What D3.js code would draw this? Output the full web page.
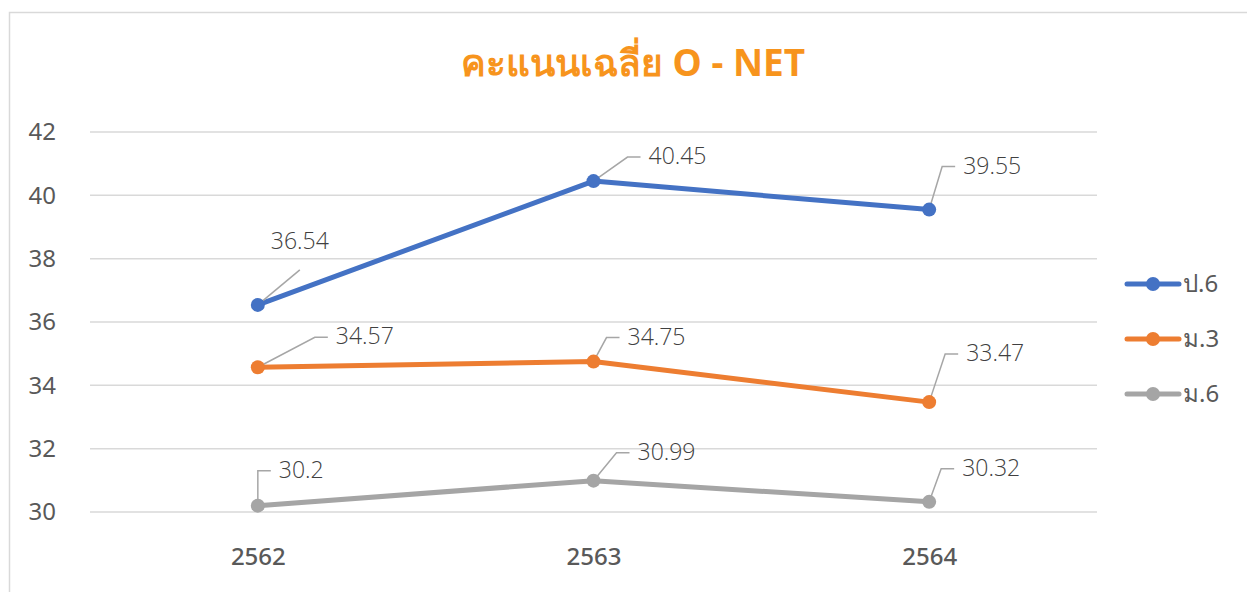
<!DOCTYPE html>
<html lang="th">
    <head>
        <meta charset="utf-8">
        <title>O-NET</title>
        <script src="https://cdn.jsdelivr.net/npm/d3@7/dist/d3.min.js"></script>
        <style>
            body { margin: 0; background: #fff; }
            text { font-family: "Noto Sans", "DejaVu Sans", sans-serif; }
            .lbl { font-family: "Open Sans", "Noto Sans", sans-serif; font-weight: 300; }
        </style>
    </head>
    <body>
        <div id="chart"></div>
    </body>
    <script>
        // data
        const years = ["2562", "2563", "2564"];
        const seriesNames = ["ป.6", "ม.3", "ม.6"];
        const p6 = [36.54, 40.45, 39.55];
        const m3 = [34.57, 34.75, 33.47];
        const m6 = [30.2, 30.99, 30.32];
        const yTicks = [30, 32, 34, 36, 38, 40, 42];

        const colors = ["#4472C4", "#ED7D31", "#A5A5A5"];
        // label offsets (text start / centre relative to the point)
        const labelPos = [
            [[13, -64], [55, -25], [34, -44]],
            [[78, -31], [34, -25], [37, -49]],
            [[21, -36], [44, -29], [33, -34]]
        ];

        (function(){
            var W = 1247, H = 592;
            var svg = d3.select("#chart").append("svg").attr("width", W).attr("height", H);

            // frame
            svg.append("rect").attr("x", 9.5).attr("y", 12.5).attr("width", W).attr("height", H)
                .attr("fill", "none").attr("stroke", "#d9d9d9").attr("stroke-width", 1.5);

            svg.append("text")
                .attr("x", 633).attr("y", 76)
                .attr("text-anchor", "middle")
                .attr("font-size", 37).attr("font-weight", "bold")
                .attr("fill", "#F7941D")
                .text("คะแนนเฉลี่ย O - NET");

            var pLeft = 90, pRight = 1097, pTop = 132, pBottom = 512;

            var x = d3.scalePoint().domain(years).range([pLeft, pRight]).padding(0.5);
            var y = d3.scaleLinear().domain([30, 42]).range([pBottom, pTop]);

            // gridlines
            svg.append("g").selectAll("line").data(yTicks).enter().append("line")
                .attr("x1", pLeft).attr("x2", pRight)
                .attr("y1", d => y(d)).attr("y2", d => y(d))
                .attr("stroke", "#d9d9d9").attr("stroke-width", 1.5);

            // y axis labels
            var yAxis = svg.append("g").attr("transform", "translate(56,0)")
                .call(d3.axisLeft(y).tickValues(yTicks).tickSize(0).tickPadding(0));
            yAxis.select(".domain").remove();
            yAxis.selectAll("text").attr("font-size", 24).attr("fill", "#595959")
                .attr("font-family", "'Noto Sans', 'DejaVu Sans', sans-serif");

            // x axis labels
            var xAxis = svg.append("g").attr("transform", "translate(0,548)")
                .call(d3.axisBottom(x).tickSize(0).tickPadding(0));
            xAxis.select(".domain").remove();
            xAxis.selectAll("text").attr("font-size", 24).attr("fill", "#595959").attr("font-weight", 500)
                .attr("font-family", "'Noto Sans', 'DejaVu Sans', sans-serif");

            var allSeries = [p6, m3, m6];
            var line = d3.line().x((d, i) => x(years[i])).y(d => y(d));

            allSeries.forEach(function(vals, s){
                var g = svg.append("g");
                g.append("path").datum(vals).attr("d", line)
                    .attr("fill", "none").attr("stroke", colors[s]).attr("stroke-width", 5)
                    .attr("stroke-linejoin", "round").attr("stroke-linecap", "round");

                // leader lines
                vals.forEach(function(v, i){
                    var px = x(years[i]), py = y(v);
                    var off = labelPos[s][i];
                    var pts;
                    if (off[1] < -60) {
                        // label sits above: straight leader to under the text
                        pts = [[px, py], [px + 42, py + off[1] + 29]];
                    } else {
                        var ex = px + off[0] - 21, ey = py + off[1] + 1;
                        pts = [[px, py], [Math.max(px, ex), ey], [px + off[0] - 8, ey]];
                    }
                    g.append("polyline")
                        .attr("points", pts.map(p => p.join(",")).join(" "))
                        .attr("fill", "none").attr("stroke", "#A6A6A6").attr("stroke-width", 1.5);
                });

                g.selectAll("circle").data(vals).enter().append("circle")
                    .attr("cx", (d, i) => x(years[i])).attr("cy", d => y(d)).attr("r", 7)
                    .attr("fill", colors[s]);

                g.selectAll("text.lbl").data(vals).enter().append("text")
                    .attr("class", "lbl")
                    .attr("x", (d, i) => x(years[i]) + labelPos[s][i][0])
                    .attr("y", (d, i) => y(d) + labelPos[s][i][1])
                    .attr("dy", "0.35em")
                    .attr("font-size", 23).attr("fill", "#404040")
                    .text(d => d);
            });

            // legend
            var legend = svg.append("g");
            seriesNames.forEach(function(name, s){
                var ly = 284 + s * 55;
                legend.append("line").attr("x1", 1127).attr("x2", 1179).attr("y1", ly).attr("y2", ly)
                    .attr("stroke", colors[s]).attr("stroke-width", 5).attr("stroke-linecap", "round");
                legend.append("circle").attr("cx", 1153).attr("cy", ly).attr("r", 7).attr("fill", colors[s]);
                legend.append("text").attr("x", 1183).attr("y", ly).attr("dy", "0.35em")
                    .attr("font-size", 24).attr("fill", "#595959").text(name);
            });
        })();
    </script>
</html>
